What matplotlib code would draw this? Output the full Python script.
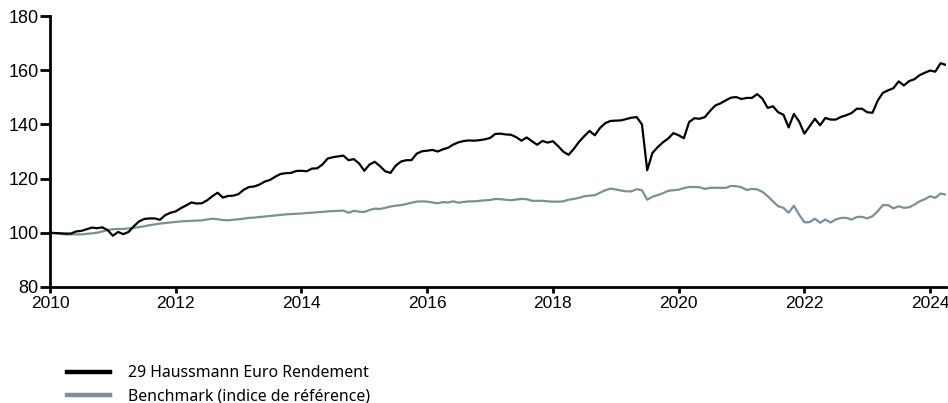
import numpy as np
import matplotlib
matplotlib.use("Agg")
import matplotlib.pyplot as plt
from matplotlib.lines import Line2D

# Monthly index values (base 100 at start of 2010), Jan 2010 -> Apr 2024
start_year = 2010

fund = [
    100.0, 99.9, 99.8, 99.7, 99.7, 100.5, 100.7, 101.3, 101.9, 101.7, 102.0, 101.0,
    98.9, 100.3, 99.5, 100.3, 102.4, 104.2, 105.1, 105.3, 105.3, 104.8, 106.5, 107.4,
    107.9, 109.1, 110.1, 111.2, 110.8, 110.9, 112.0, 113.5, 114.8, 113.0, 113.6, 113.7,
    114.3, 115.9, 116.9, 117.1, 117.8, 118.9, 119.5, 120.7, 121.7, 122.0, 122.1, 122.8,
    122.9, 122.7, 123.7, 123.8, 125.2, 127.4, 127.9, 128.2, 128.5, 126.8, 127.2, 125.6,
    122.9, 125.2, 126.2, 124.6, 122.7, 122.1, 124.8, 126.3, 126.8, 126.8, 129.2, 130.1,
    130.3, 130.6, 130.0, 130.8, 131.4, 132.6, 133.4, 133.9, 134.1, 134.0, 134.2, 134.5,
    135.0, 136.5, 136.6, 136.3, 136.2, 135.3, 134.0, 135.2, 133.8, 132.5, 133.9, 133.3,
    133.8, 132.0, 129.9, 128.8, 131.0, 133.6, 135.7, 137.6, 136.0, 138.7, 140.5, 141.3,
    141.4, 141.5, 142.0, 142.5, 142.7, 140.0, 123.1, 129.5, 131.6, 133.4, 134.8, 136.8,
    136.0, 134.9, 140.9, 142.3, 142.1, 142.7, 145.0, 147.0, 147.8, 148.9, 149.9, 150.1,
    149.4, 149.8, 149.8, 151.2, 149.5, 146.1, 146.7, 144.5, 143.6, 138.9, 143.9, 141.1,
    136.6, 139.3, 142.1, 139.7, 142.4, 141.8, 141.8, 142.8, 143.4, 144.2, 145.8, 145.8,
    144.5, 144.3, 148.8, 151.7, 152.6, 153.4, 155.9, 154.4, 156.0, 156.7, 158.2, 159.1,
    159.9, 159.5, 162.6, 162.0,
]

benchmark = [
    100.0, 99.8, 99.6, 99.4, 99.4, 99.4, 99.4, 99.6, 99.8, 100.0, 100.5, 101.0,
    101.3, 101.4, 101.4, 101.6, 101.8, 102.1, 102.4, 102.8, 103.1, 103.4, 103.6, 103.8,
    104.0, 104.2, 104.3, 104.4, 104.5, 104.6, 104.9, 105.2, 105.0, 104.7, 104.6, 104.8,
    105.0, 105.2, 105.5, 105.6, 105.8, 106.0, 106.2, 106.4, 106.6, 106.8, 106.9, 107.0,
    107.1, 107.3, 107.4, 107.6, 107.7, 107.9, 108.0, 108.1, 108.2, 107.4, 108.1, 107.8,
    107.7, 108.4, 108.9, 108.8, 109.2, 109.7, 110.0, 110.2, 110.6, 111.1, 111.5, 111.6,
    111.5, 111.2, 110.9, 111.3, 111.2, 111.6, 111.1, 111.4, 111.6, 111.6, 111.8, 112.0,
    112.1, 112.5, 112.4, 112.2, 112.0, 112.3, 112.5, 112.4, 111.8, 111.8, 111.8, 111.6,
    111.5, 111.5, 111.6, 112.2, 112.5, 112.9, 113.5, 113.7, 113.9, 114.8, 115.7, 116.3,
    116.0, 115.6, 115.3, 115.3, 116.1, 115.7, 112.2, 113.3, 113.9, 114.6, 115.5, 115.7,
    115.9, 116.5, 116.9, 116.9, 116.8, 116.2, 116.6, 116.6, 116.6, 116.6, 117.3, 117.2,
    116.8, 115.8, 116.2, 116.0, 115.1, 113.5, 111.6, 109.8, 109.2, 107.4, 110.0, 106.7,
    103.9, 103.9, 105.2, 103.7, 104.9, 103.8, 104.9, 105.5, 105.5, 104.9, 105.8, 105.9,
    105.3, 106.1, 108.0, 110.2, 110.2, 109.0, 109.8, 109.2, 109.4, 110.4, 111.6, 112.4,
    113.5, 112.9, 114.5, 114.1,
]

labels = ["29 Haussmann Euro Rendement", "Benchmark (indice de référence)"]
colors = ["#000000", "#7b8f96"]

years = start_year + np.arange(len(fund)) / 12.0

fig = plt.figure(figsize=(9.48, 4.03), dpi=100)
ax = fig.add_axes([0.0527, 0.288, 0.945, 0.672])

ax.plot(years, benchmark, color=colors[1], lw=1.6)
ax.plot(years, fund, color=colors[0], lw=1.6)

ax.set_xlim(years[0], years[-1])
ax.set_ylim(80, 180)
ax.set_xticks(np.arange(2010, 2025, 2))
ax.set_yticks(np.arange(80, 181, 20))

for side in ["top", "right"]:
    ax.spines[side].set_visible(False)
for side in ["left", "bottom"]:
    ax.spines[side].set_linewidth(2)

ax.tick_params(axis="both", direction="out", width=2,
               labelfontfamily="Liberation Sans")
ax.tick_params(axis="y", length=7.5, pad=0.5, labelsize=13)
ax.tick_params(axis="x", length=4, pad=2.5, labelsize=12.5)

handles = [Line2D([], [], color=c, lw=3.2) for c in colors]
fig.legend(handles, labels, loc="upper left", bbox_to_anchor=(0.0707, 0.094),
           frameon=False, handlelength=2.72, handletextpad=1.14,
           labelspacing=0.47, borderpad=0, borderaxespad=0,
           prop={"family": "Noto Sans", "size": 11.4})

fig.savefig("out.png", dpi=100)
